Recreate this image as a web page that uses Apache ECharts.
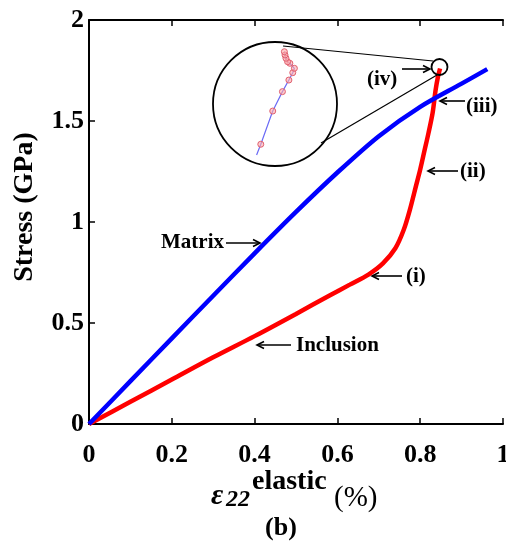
<!DOCTYPE html>
<html>
<head>
<meta charset="utf-8">
<script src="https://cdn.jsdelivr.net/npm/echarts@6/dist/echarts.min.js"></script>
<style>
html,body{margin:0;padding:0;background:#fff;}
#chart{width:506px;height:544px;}
</style>
</head>
<body>
<div id="chart"></div>
<script>
// ---- data ----
var xTicks = [0, 0.2, 0.4, 0.6, 0.8, 1];
var yTicks = [0, 0.5, 1, 1.5, 2];

var matrixStrain = [0, 0.1, 0.2, 0.3, 0.4, 0.5, 0.6, 0.7, 0.8, 0.9, 0.962];
var matrixStress = [0, 0.212, 0.424, 0.635, 0.845, 1.05, 1.245, 1.425, 1.57, 1.685, 1.757];

var inclusionStrain = [0, 0.1, 0.2, 0.3, 0.4, 0.5, 0.58, 0.63, 0.675, 0.71, 0.74, 0.76, 0.775, 0.79, 0.80, 0.81, 0.82, 0.83, 0.837, 0.843, 0.848];
var inclusionStress = [0, 0.11, 0.22, 0.33, 0.435, 0.545, 0.635, 0.69, 0.74, 0.795, 0.87, 0.96, 1.06, 1.18, 1.26, 1.35, 1.44, 1.54, 1.65, 1.72, 1.76];

// magnified detail near (iv)
var zoomStrain = [0.8348, 0.8361, 0.8398, 0.8428, 0.8448, 0.8460, 0.8465, 0.8451, 0.8444, 0.8439, 0.8436, 0.8434];
var zoomStress = [1.7344, 1.7413, 1.7625, 1.7749, 1.7823, 1.7870, 1.7898, 1.7930, 1.7940, 1.7962, 1.7983, 1.8004];
var zoomCenter = [0.8405, 1.767];

var annotations = ['Matrix', 'Inclusion', '(i)', '(ii)', '(iii)', '(iv)'];

// ---- build ----
function pairs(xs, ys) { return xs.map(function (x, i) { return [x, ys[i]]; }); }
var zoomData = pairs(zoomStrain, zoomStress).map(function (p, i) {
  return i === 0 ? {value: p, symbol: 'none'} : {value: p};
});

var FONT = '"Liberation Serif", "Times New Roman", serif';
var chart = echarts.init(document.getElementById('chart'), null, {renderer: 'canvas'});

function arrow(x1, y1, x2, y2) {
  var dx = x2 - x1, dy = y2 - y1, L = Math.sqrt(dx * dx + dy * dy);
  var ux = dx / L, uy = dy / L, h = 7, w = 3.5;
  return [
    {type: 'line', shape: {x1: x1, y1: y1, x2: x2, y2: y2}, style: {stroke: '#000', lineWidth: 1.6}},
    {type: 'polyline', shape: {points: [[x2 - ux * h - uy * w, y2 - uy * h + ux * w], [x2, y2], [x2 - ux * h + uy * w, y2 - uy * h - ux * w]]},
      style: {stroke: '#000', lineWidth: 1.6, fill: null}}
  ];
}
function label(t, x, y, align) {
  return {type: 'text', style: {text: t, x: x, y: y, align: align || 'left', verticalAlign: 'middle',
    font: 'bold 21px ' + FONT, fill: '#000'}};
}

var g = [];
g.push(label(annotations[0], 224, 243, 'right'));
g = g.concat(arrow(226, 243, 260, 243));
g.push(label(annotations[1], 296, 346, 'left'));
g = g.concat(arrow(291, 345, 257, 345));
g.push(label(annotations[2], 406, 277, 'left'));
g = g.concat(arrow(402, 276, 372, 276));
g.push(label(annotations[3], 460, 172, 'left'));
g = g.concat(arrow(458, 171, 428, 171));
g.push(label(annotations[4], 466, 107, 'left'));
g = g.concat(arrow(465, 101, 440, 101));
g.push(label(annotations[5], 367, 80, 'left'));
g = g.concat(arrow(402, 69, 430, 69));

// magnifier
g.push({type: 'circle', shape: {cx: 439.5, cy: 67, r: 8}, style: {stroke: '#000', lineWidth: 1.8, fill: null}, z: 10});
g.push({type: 'circle', shape: {cx: 275, cy: 104, r: 62}, style: {stroke: '#000', lineWidth: 1.8, fill: null}, z: 10});
g.push({type: 'line', shape: {x1: 283, y1: 46, x2: 433, y2: 61}, style: {stroke: '#000', lineWidth: 1.2}, z: 10});
g.push({type: 'line', shape: {x1: 321, y1: 143, x2: 437, y2: 75}, style: {stroke: '#000', lineWidth: 1.2}, z: 10});

// y-axis title
g.push({type: 'text', x: 25, y: 207, rotation: Math.PI / 2,
  style: {text: 'Stress (GPa)', x: 0, y: 0, align: 'center', verticalAlign: 'middle', font: 'bold 28px ' + FONT, fill: '#000'}});

// x-axis title pieces
g.push({type: 'text', style: {text: 'ε', x: 211, y: 496, verticalAlign: 'middle', font: 'italic bold 30px ' + FONT, fill: '#000'}});
g.push({type: 'text', style: {text: '22', x: 226, y: 500, verticalAlign: 'middle', font: 'italic bold 24px ' + FONT, fill: '#000'}});
g.push({type: 'text', style: {text: 'elastic', x: 252, y: 482, verticalAlign: 'middle', font: 'bold 28px ' + FONT, fill: '#000'}});
g.push({type: 'text', style: {text: '(%)', x: 334, y: 498, verticalAlign: 'middle', font: '29px ' + FONT, fill: '#000'}});
g.push({type: 'text', style: {text: '(b)', x: 281, y: 528, align: 'center', verticalAlign: 'middle', font: 'bold 26px ' + FONT, fill: '#000'}});

var tickStyle = {inside: true, length: 6, lineStyle: {color: '#000', width: 1.5}};
var option = {
  backgroundColor: '#fff',
  animation: false,
  grid: [
    {left: 89, top: 20, width: 414, height: 404, containLabel: false, outerBoundsMode: 'none', show: false},
    {left: 213, top: 42, width: 124, height: 124, containLabel: false, outerBoundsMode: 'none', show: false}
  ],
  xAxis: [
    {type: 'value', gridIndex: 0, min: xTicks[0], max: xTicks[xTicks.length - 1], interval: 0.2,
      axisLine: {lineStyle: {color: '#000', width: 2}},
      axisTick: tickStyle,
      splitLine: {show: false},
      axisLabel: {margin: 18, color: '#000', fontFamily: FONT, fontWeight: 'bold', fontSize: 26}},
    {type: 'value', gridIndex: 1, min: zoomCenter[0] - 0.0192, max: zoomCenter[0] + 0.0192, show: false},
    {type: 'value', gridIndex: 0, position: 'top', min: xTicks[0], max: xTicks[xTicks.length - 1], interval: 0.2,
      axisLine: {lineStyle: {color: '#000', width: 2}},
      axisTick: tickStyle, axisLabel: {show: false}, splitLine: {show: false}}
  ],
  yAxis: [
    {type: 'value', gridIndex: 0, min: yTicks[0], max: yTicks[yTicks.length - 1], interval: 0.5,
      axisLine: {lineStyle: {color: '#000', width: 2}},
      axisTick: tickStyle,
      splitLine: {show: false},
      axisLabel: {margin: 5, color: '#000', fontFamily: FONT, fontWeight: 'bold', fontSize: 26}},
    {type: 'value', gridIndex: 1, min: zoomCenter[1] - 0.0396, max: zoomCenter[1] + 0.0396, show: false}
  ],
  series: [
    {name: 'Matrix', type: 'line', xAxisIndex: 0, yAxisIndex: 0, data: pairs(matrixStrain, matrixStress),
      showSymbol: false, smooth: 0.3, lineStyle: {color: '#0000ff', width: 4.5}, z: 3},
    {name: 'Inclusion', type: 'line', xAxisIndex: 0, yAxisIndex: 0, data: pairs(inclusionStrain, inclusionStress),
      showSymbol: false, smooth: 0.3, lineStyle: {color: '#ff0000', width: 4.5}, z: 2},
    {name: 'Detail', type: 'line', xAxisIndex: 1, yAxisIndex: 1, data: zoomData,
      symbol: 'circle', symbolSize: 6, showSymbol: true,
      lineStyle: {color: '#6a6af5', width: 1.2},
      itemStyle: {color: 'rgba(255,170,170,0.6)', borderColor: '#e06070', borderWidth: 1}, z: 11}
  ],
  graphic: g
};
chart.setOption(option);
</script>
</body>
</html>
